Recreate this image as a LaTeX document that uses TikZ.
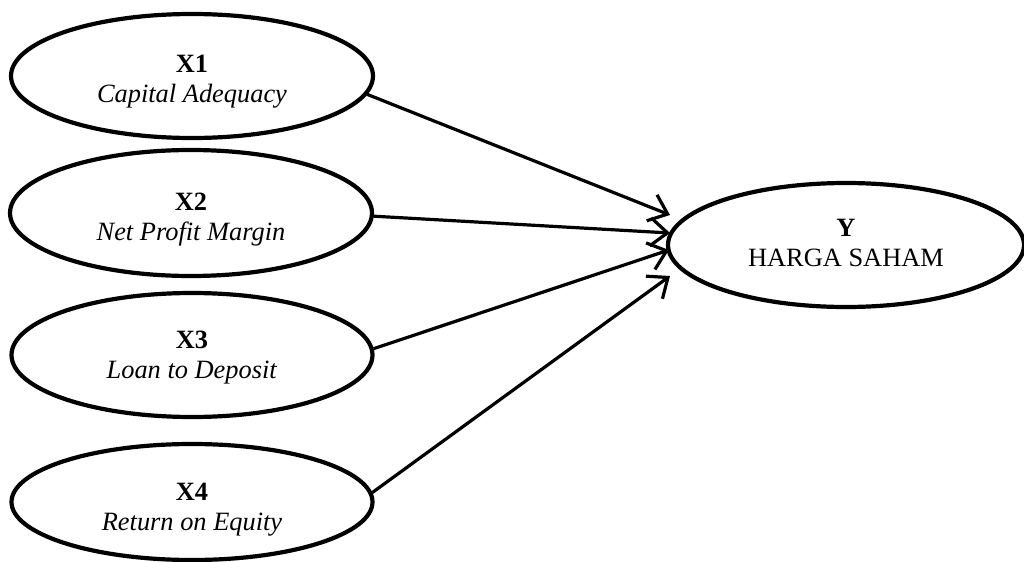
\documentclass[tikz,border=0pt]{standalone}
\usepackage{fontspec}
\setmainfont{Liberation Serif}
\usetikzlibrary{shapes.geometric,arrows.meta}
\newcommand{\vartext}[3]{\raisebox{-#1}[\height][\depth]{\begin{tabular}{@{}c@{}}#2\\#3\end{tabular}}}
\begin{document}
\begin{tikzpicture}[x=0.5pt,y=-0.5pt,
  var/.style={ellipse,draw,line width=2.1pt,inner sep=0pt,align=center,
    font=\fontsize{13.2}{15}\selectfont},
  arr/.style={line width=1.6pt,-{Straight Barb[length=8.5pt,width=14pt,line width=1.6pt]}}]
\useasboundingbox (0,0) rectangle (1024,562);
\node[var,minimum width=181pt,minimum height=62pt] (X1) at (192,76) {\vartext{2.5pt}{\textbf{X1}}{\textit{Capital Adequacy}}};
\node[var,minimum width=181pt,minimum height=63pt] (X2) at (191,213) {\vartext{3pt}{\textbf{X2}}{\textit{Net Profit Margin}}};
\node[var,minimum width=180.5pt,minimum height=62pt] (X3) at (192,355) {\vartext{1.3pt}{\textbf{X3}}{\textit{Loan to Deposit}}};
\node[var,minimum width=180.5pt,minimum height=58pt] (X4) at (192,502) {\vartext{3.7pt}{\textbf{X4}}{\textit{Return on Equity}}};
\node[var,minimum width=178pt,minimum height=62pt] (Y) at (846,245) {\vartext{0pt}{\textbf{Y}}{HARGA SAHAM}};
\coordinate (t1) at (670,215);
\coordinate (t2) at (670,233);
\coordinate (t3) at (669,250);
\coordinate (t4) at (670,276);
\draw[arr] (X1.-6) -- (t1);
\draw[arr] (X2.-1) -- (t2);
\draw[arr] (X3.2.5) -- (t3);
\draw[arr] (X4.3) -- (t4);
\end{tikzpicture}
\end{document}
